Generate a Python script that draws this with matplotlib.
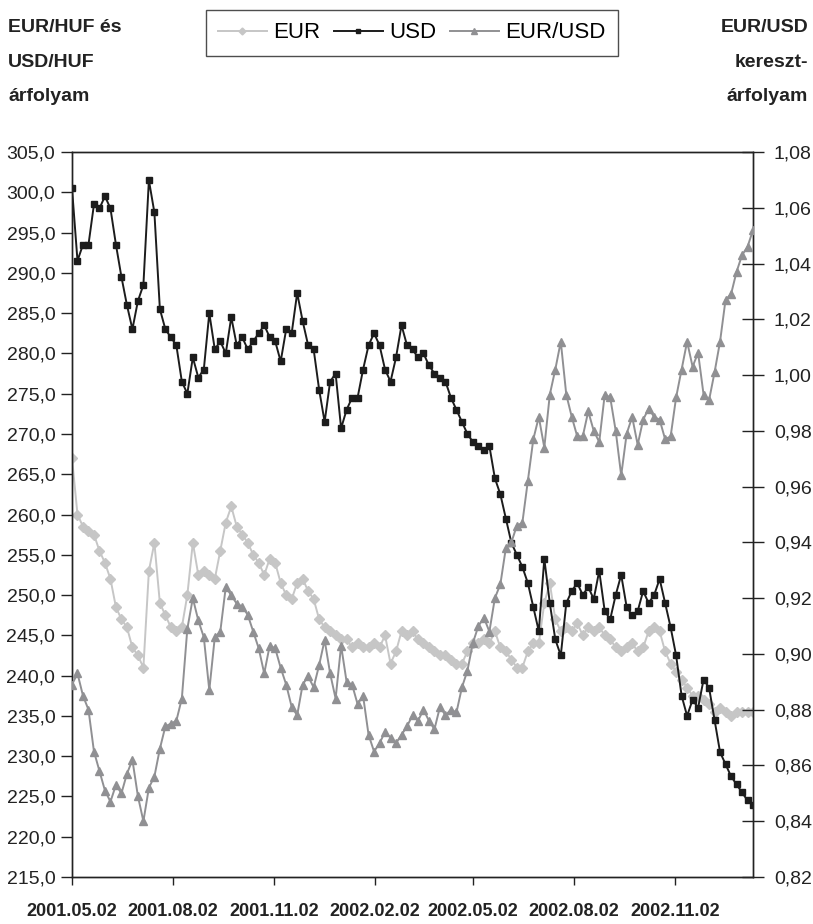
import matplotlib
matplotlib.use("Agg")
import matplotlib.pyplot as plt
import matplotlib.dates as mdates
from matplotlib.lines import Line2D
from matplotlib.ticker import FuncFormatter, MultipleLocator
import pandas as pd

# ---------------- data (~5-day sampling) ----------------
start_date = "2001-05-02"
step = "5D"

usd = [300.5, 291.5, 293.5, 293.5, 298.5, 298.0, 299.5, 298.0, 293.5, 289.5,
       286.0, 283.0, 286.5, 288.5, 301.5, 297.5, 285.5, 283.0, 282.0, 281.0,
       276.5, 275.0, 279.5, 277.0, 278.0, 285.0, 280.5, 281.5, 280.0, 284.5,
       281.0, 282.0, 280.5, 281.5, 282.5, 283.5, 282.0, 281.5, 279.0, 283.0,
       282.5, 287.5, 284.0, 281.0, 280.5, 275.5, 271.5, 276.5, 277.5, 270.7,
       273.0, 274.5, 274.5, 278.0, 281.0, 282.5, 281.0, 278.0, 276.5, 279.5,
       283.5, 281.0, 280.5, 279.5, 280.0, 278.5, 277.5, 277.0, 276.5, 274.5,
       273.0, 271.5, 270.0, 269.0, 268.5, 268.0, 268.5, 264.5, 262.5, 259.5,
       256.5, 255.0, 253.5, 251.5, 248.5, 245.5, 254.5, 249.0, 244.5, 242.5,
       249.0, 250.5, 251.5, 250.0, 251.0, 249.5, 253.0, 248.0, 247.0, 250.0,
       252.5, 248.5, 247.5, 248.0, 250.5, 249.0, 250.0, 252.0, 249.0, 246.0,
       242.5, 237.5, 235.0, 237.0, 236.0, 239.5, 238.5, 234.5, 230.5, 229.0,
       227.5, 226.5, 225.5, 224.5, 224.0]

eur = [267.0, 260.0, 258.5, 258.0, 257.5, 255.5, 254.0, 252.0, 248.5, 247.0,
       246.0, 243.5, 242.5, 241.0, 253.0, 256.5, 249.0, 247.5, 246.0, 245.5,
       246.0, 250.0, 256.5, 252.5, 253.0, 252.5, 252.0, 255.5, 259.0, 261.0,
       258.5, 257.5, 256.5, 255.0, 254.0, 252.5, 254.5, 254.0, 251.5, 250.0,
       249.5, 251.5, 252.0, 250.5, 249.5, 247.0, 246.0, 245.5, 245.0, 244.5,
       244.5, 243.5, 244.0, 243.5, 243.5, 244.0, 243.5, 245.0, 241.5, 243.0,
       245.5, 245.0, 245.5, 244.5, 244.0, 243.5, 243.0, 242.5, 242.5, 242.0,
       241.5, 241.5, 243.0, 244.0, 244.0, 244.5, 244.0, 245.5, 243.5, 243.0,
       242.0, 241.0, 241.0, 243.0, 244.0, 244.0, 249.0, 251.5, 247.0, 245.5,
       246.0, 245.5, 246.5, 245.0, 246.0, 245.5, 246.0, 245.0, 244.5, 243.5,
       243.0, 243.5, 244.0, 243.0, 243.5, 245.5, 246.0, 245.5, 243.0, 241.5,
       240.5, 239.5, 238.5, 237.5, 237.5, 237.0, 236.5, 235.5, 236.0, 235.5,
       235.0, 235.5, 235.5, 235.5, 235.5]

eurusd = [0.889, 0.893, 0.885, 0.880, 0.865, 0.858, 0.851, 0.847, 0.853, 0.850,
          0.857, 0.862, 0.849, 0.840, 0.852, 0.856, 0.866, 0.874, 0.875, 0.876,
          0.884, 0.909, 0.920, 0.912, 0.906, 0.887, 0.906, 0.908, 0.924, 0.921,
          0.918, 0.917, 0.914, 0.908, 0.902, 0.893, 0.903, 0.902, 0.895, 0.889,
          0.881, 0.878, 0.889, 0.892, 0.888, 0.896, 0.905, 0.893, 0.884, 0.903,
          0.890, 0.889, 0.882, 0.885, 0.871, 0.865, 0.868, 0.872, 0.870, 0.868,
          0.871, 0.874, 0.878, 0.876, 0.880, 0.876, 0.873, 0.881, 0.878, 0.880,
          0.879, 0.888, 0.894, 0.904, 0.910, 0.913, 0.908, 0.920, 0.925, 0.938,
          0.940, 0.946, 0.947, 0.962, 0.977, 0.985, 0.974, 0.993, 1.002, 1.012,
          0.993, 0.985, 0.978, 0.978, 0.987, 0.980, 0.976, 0.993, 0.992, 0.980,
          0.964, 0.979, 0.985, 0.975, 0.984, 0.988, 0.985, 0.984, 0.977, 0.978,
          0.992, 1.002, 1.012, 1.003, 1.008, 0.993, 0.991, 1.001, 1.012, 1.027,
          1.029, 1.037, 1.043, 1.046, 1.052]

series_names = ["EUR", "USD", "EUR/USD"]
tick_dates = ["2001-05-02", "2001-08-02", "2001-11-02", "2002-02-02",
              "2002-05-02", "2002-08-02", "2002-11-02"]
left_title = "EUR/HUF és\nUSD/HUF\nárfolyam"
right_title = "EUR/USD\nkereszt-\nárfolyam"

dates = pd.date_range(start_date, periods=len(usd), freq=step)

# ---------------- style ----------------
plt.rcParams["font.family"] = ["Liberation Sans", "DejaVu Sans"]

c_eur = "#c6c6c6"
c_usd = "#1c1c1c"
c_x = "#909093"
c_ax = "#222222"

fig = plt.figure(figsize=(8.13, 9.24), dpi=100)
ax = fig.add_axes([72 / 813, 1 - 877 / 924, (753 - 72) / 813, (877 - 152) / 924])
ax2 = ax.twinx()

ax.plot(dates, eur, color=c_eur, lw=1.4, marker="D", ms=4.6, mec=c_eur, mfc=c_eur, zorder=2)
ax.plot(dates, usd, color=c_usd, lw=1.4, marker="s", ms=4.9, mec=c_usd, mfc=c_usd, zorder=3)
ax2.plot(dates, eurusd, color=c_x, lw=1.4, marker="^", ms=5.8, mec=c_x, mfc=c_x, zorder=3)

ax.set_xlim(dates[0], dates[-1])
ax.set_ylim(215, 305)
ax2.set_ylim(0.82, 1.08)
ax.yaxis.set_major_locator(MultipleLocator(5))
ax2.yaxis.set_major_locator(MultipleLocator(0.02))
ax.yaxis.set_major_formatter(FuncFormatter(lambda v, p: f"{v:.1f}".replace(".", ",")))
ax2.yaxis.set_major_formatter(FuncFormatter(lambda v, p: f"{v:.2f}".replace(".", ",")))

ax.set_xticks(pd.to_datetime(tick_dates))
ax.xaxis.set_major_formatter(mdates.DateFormatter("%Y.%m.%d"))

for a in (ax, ax2):
    for s in a.spines.values():
        s.set_linewidth(1.0)
        s.set_color(c_ax)
ax.tick_params(axis="y", direction="out", length=8, width=1.0, labelsize=14, pad=4, colors=c_ax)
ax2.tick_params(axis="y", direction="inout", length=16, width=1.0, labelsize=14, pad=7, colors=c_ax)
ax.tick_params(axis="x", direction="out", length=6, width=1.0, labelsize=13, pad=13, colors=c_ax)
for lbl in ax.get_xticklabels():
    lbl.set_fontweight("bold")

fig.text(8 / 813, 1 - 19 / 924, left_title, ha="left", va="top", fontsize=14,
         fontweight="bold", linespacing=2.35, color=c_ax)
fig.text(808 / 813, 1 - 19 / 924, right_title, ha="right", va="top", fontsize=14,
         fontweight="bold", linespacing=2.35, multialignment="right", color=c_ax)

handles = [
    Line2D([], [], color=c_eur, lw=1.4, marker="D", ms=3.5, mec=c_eur, mfc=c_eur),
    Line2D([], [], color=c_usd, lw=1.4, marker="s", ms=3.5, mec=c_usd, mfc=c_usd),
    Line2D([], [], color=c_x, lw=1.4, marker="^", ms=4, mec=c_x, mfc=c_x),
]
leg = fig.legend(handles, series_names, loc="center", bbox_to_anchor=(412 / 813, 1 - 33 / 924),
                 ncol=3, frameon=True, fancybox=False, fontsize=16, handlelength=2.2,
                 handletextpad=0.3, columnspacing=0.6, borderpad=0.55, edgecolor=c_ax)
leg.get_frame().set_linewidth(1.0)

fig.savefig("out.png", dpi=100)
